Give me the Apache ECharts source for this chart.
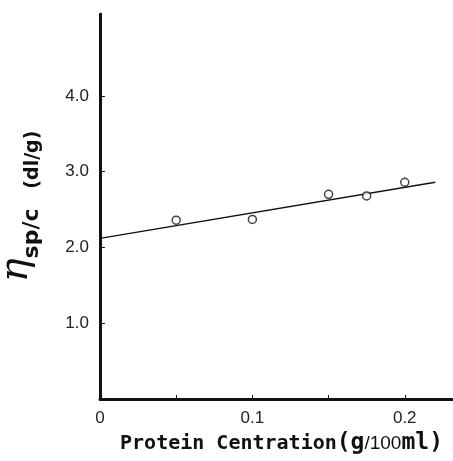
<!DOCTYPE html>
<html>
  <head>
    <meta charset="utf-8" />
    <title>ECharts</title>
    <script src="https://cdn.jsdelivr.net/npm/echarts@6/dist/echarts.min.js"></script>
  </head>

  <body style="margin: 0">
    <div id="main" style="width: 453px; height: 461px"></div>
    <script type="text/javascript">
      var myChart = echarts.init(document.getElementById("main"));

      // measured points
      const concX = [0.05, 0.1, 0.15, 0.175, 0.2];
      const etaSpC = [2.36, 2.37, 2.7, 2.68, 2.86];
      // fitted line
      const fitX = [0, 0.22];
      const fitY = [2.12, 2.86];
      // ticks
      const yTickLabels = [1, 2, 3, 4];
      const xTickLabels = [0, 0.1, 0.2];
      const xTicks = [0.05, 0.1, 0.15, 0.2];

      const labelFont = "Liberation Sans";

      option = {
        backgroundColor: "#fff",
        animation: false,
        grid: {
          left: 100,
          top: 14,
          right: 1,
          bottom: 62,
          outerBoundsMode: "none",
          containLabel: false,
        },
        xAxis: {
          type: "value",
          min: 0,
          max: 0.231,
          interval: 0.05,
          splitLine: { show: false },
          axisLine: { lineStyle: { color: "#111", width: 3 } },
          axisTick: {
            inside: true,
            length: 4,
            customValues: xTicks,
            lineStyle: { color: "#111", width: 1 },
          },
          axisLabel: {
            customValues: xTickLabels,
            margin: 11,
            fontFamily: labelFont,
            fontSize: 17,
            color: "#222",
            formatter: (v) => (v === 0 ? "0" : v.toFixed(1)),
          },
          name: "{a|Protein Centration}{b|(}{g|g}{c|/100}{g|ml}{b|)}",
          nameLocation: "middle",
          nameGap: 33,
          nameTextStyle: {
            padding: [0, 0, 0, 11],
            rich: {
              a: {
                fontFamily: "DejaVu Sans Mono",
                fontWeight: "bold",
                fontSize: 20,
                color: "#111",
              },
              g: {
                fontFamily: "DejaVu Sans Mono",
                fontWeight: "bold",
                fontSize: 23,
                color: "#111",
              },
              b: {
                fontFamily: "DejaVu Sans Mono",
                fontSize: 23,
                fontWeight: "bold",
                color: "#111",
              },
              c: {
                fontFamily: labelFont,
                fontSize: 19,
                color: "#111",
              },
            },
          },
        },
        yAxis: {
          type: "value",
          min: 0,
          max: 5.08,
          interval: 1,
          splitLine: { show: false },
          axisLine: { lineStyle: { color: "#111", width: 3 } },
          axisTick: {
            inside: true,
            length: 5,
            customValues: yTickLabels,
            lineStyle: { color: "#111", width: 1 },
          },
          axisLabel: {
            customValues: yTickLabels,
            margin: 11,
            fontFamily: labelFont,
            fontSize: 17,
            color: "#222",
            formatter: (v) => v.toFixed(1),
          },
          name: "{eta|η}{sub|sp/c}{unit|   (dl/g)}",
          nameLocation: "middle",
          nameRotate: 90,
          nameGap: 57,
          nameTextStyle: {
            rich: {
              eta: {
                fontFamily: "DejaVu Serif",
                fontStyle: "italic",
                fontSize: 40,
                lineHeight: 46,
                verticalAlign: "top",
                color: "#111",
              },
              sub: {
                fontFamily: "DejaVu Sans",
                fontWeight: "bold",
                fontSize: 22,
                lineHeight: 46,
                verticalAlign: "bottom",
                color: "#111",
              },
              unit: {
                fontFamily: "DejaVu Sans",
                fontWeight: "bold",
                fontSize: 19,
                lineHeight: 46,
                verticalAlign: "bottom",
                color: "#111",
              },
            },
          },
        },
        series: [
          {
            type: "line",
            data: fitX.map((x, i) => [x, fitY[i]]),
            symbol: "none",
            lineStyle: { color: "#111", width: 1.3 },
            z: 2,
          },
          {
            type: "scatter",
            data: concX.map((x, i) => [x, etaSpC[i]]),
            symbol: "circle",
            symbolSize: 8,
            itemStyle: { color: "#fff", borderColor: "#111", borderWidth: 1.5 },
            z: 3,
          },
        ],
      };

      myChart.setOption(option);
    </script>
  </body>
</html>
